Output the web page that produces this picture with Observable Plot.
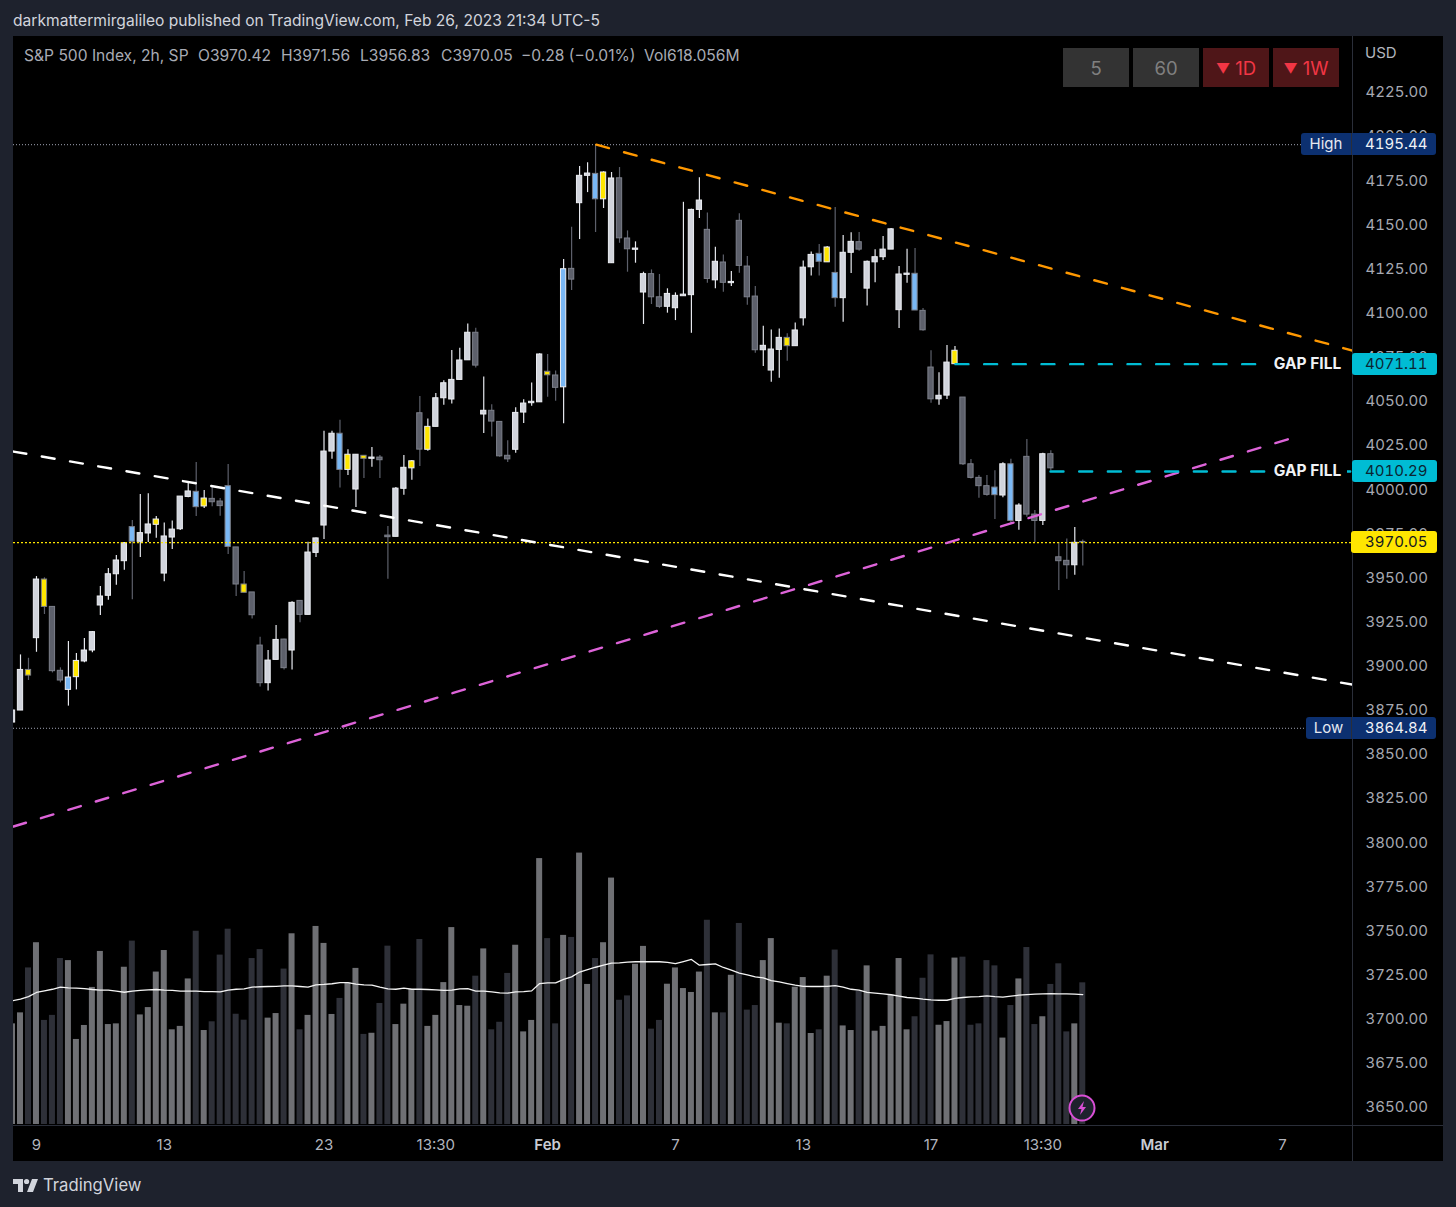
<!DOCTYPE html>
<html>
<head>
<meta charset="utf-8">
<script src="https://cdn.jsdelivr.net/npm/d3@7"></script>
<script src="https://cdn.jsdelivr.net/npm/@observablehq/plot@0.6"></script>
<style>
html,body{margin:0;padding:0;background:#1e222d;width:1456px;height:1207px;overflow:hidden;font-family:Inter,Roboto,sans-serif}
#stage{position:relative;width:1456px;height:1207px}
#stage svg.plot{position:absolute;left:0;top:0}
.abs{position:absolute;white-space:nowrap}
.btn{position:absolute;top:48px;width:66px;height:39px;line-height:41px;text-align:center;font-size:18.5px}
.btn span{font-size:14px;vertical-align:1px}
.tag{position:absolute;height:22px;line-height:22px;font-size:15px;border-radius:3px;box-sizing:border-box;font-variant-numeric:tabular-nums}
</style>
</head>
<body>
<div id="stage"></div>
<script>
// ---- values ----
const tones = ("UUyUyDDBYU"+"UUUUUbUUYU"+"UUUbYDDbDy"+"DDUUDUDUUU"+"UbYUyUDDUU"+"YDYUUUUUDU"+"DDDUUUUyDB"+"DUUbYUDDUU"+"DDUUUUUDUD"+"UDDDUUUyUU"+"UbYbUUDUUU"+"UUUbDDUUYD"+"DDDbUbUDDU"+"DDDUD").split("");

const highs = [3875.5,3906.4,3904.5,3950.8,3950.1,3933.6,3899.1,3914.0,3907.2,3915.7,
3919.7,3945.2,3955.4,3962.7,3970.1,3982.5,3997.3,3997.7,3984.8,3981.2,
3982.2,3996.1,4004.3,4015.4,3999.5,4002.0,3995.0,4014.3,3967.3,3953.7,
3941.8,3916.4,3908.9,3923.1,3915.3,3936.5,3937.0,3970.3,3972.7,4033.1,
4033.1,4039.3,4022.6,4019.8,4019.4,4023.9,4019.4,3979.1,4001.2,4019.4,
4016.5,4052.8,4040.1,4054.5,4061.7,4078.8,4080.1,4093.9,4091.5,4063.9,
4048.1,4038.4,4027.7,4046.4,4050.9,4060.5,4077.0,4076.6,4067.3,4130.4,
4148.7,4183.1,4185.2,4195.44,4180.1,4179.7,4182.5,4146.6,4140.4,4123.2,
4124.5,4121.9,4113.8,4111.5,4162.8,4158.9,4176.7,4156.8,4137.3,4133.0,
4123.6,4156.3,4132.1,4115.1,4092.6,4090.5,4091.1,4088.3,4094.5,4129.6,
4134.7,4138.9,4137.7,4159.8,4144.0,4145.5,4145.7,4129.6,4135.9,4143.4,
4147.9,4126.4,4136.2,4136.6,4102.6,4078.7,4066.2,4081.7,4081.1,4052.2,
4017.1,4008.0,4008.0,4010.7,4015.2,4017.2,3992.0,4028.4,3988.2,4020.6,
4022.0,3970.1,3972.1,3978.6,3971.56];

const bodyTops = [3874.9,3897.9,3897.9,3949.1,3949.1,3933.6,3897.4,3893.6,3903.0,3908.9,
3919.3,3939.5,3952.1,3959.9,3969.7,3978.8,3975.4,3980.3,3983.1,3973.5,
3977.4,3996.1,3999.0,3998.8,3995.0,3994.8,3993.3,4002.0,3967.3,3946.3,
3941.8,3911.7,3903.2,3914.9,3915.1,3935.9,3937.0,3964.4,3972.4,4021.6,
4031.7,4031.7,4019.8,4019.8,4019.2,4018.2,4018.2,3974.0,4000.6,4012.4,
4016.1,4043.3,4035.6,4051.8,4060.3,4062.2,4073.2,4088.9,4088.9,4044.7,
4044.7,4038.4,4019.2,4043.5,4048.8,4049.8,4076.6,4066.8,4064.7,4124.9,
4125.1,4177.8,4179.1,4178.9,4179.7,4176.3,4176.4,4142.3,4136.6,4122.1,
4122.1,4109.0,4110.9,4109.8,4110.5,4158.5,4163.8,4147.2,4129.1,4128.7,
4117.7,4152.3,4126.4,4109.4,4081.5,4079.4,4086.0,4086.0,4090.2,4125.8,
4133.0,4133.6,4137.2,4122.8,4134.2,4140.4,4140.2,4129.1,4131.7,4136.0,
4147.5,4121.9,4122.4,4122.3,4101.3,4069.2,4053.2,4072.0,4078.7,4052.2,
4014.4,4006.7,4002.0,4001.2,4014.4,4014.4,3991.0,4018.6,3985.9,4020.1,
4020.1,3961.7,3959.7,3969.9,3970.42];

const bodyBottoms = [3868.1,3874.9,3894.7,3915.9,3933.6,3897.2,3891.9,3886.6,3893.8,3902.7,
3908.9,3934.4,3939.9,3952.1,3959.5,3970.5,3970.5,3975.2,3980.1,3952.5,
3972.9,3977.6,3995.9,3990.1,3990.5,3992.9,3990.7,3967.6,3946.3,3941.6,
3928.9,3890.4,3890.4,3903.6,3898.9,3908.9,3929.1,3929.1,3964.2,3979.7,
4021.6,4011.2,4011.2,4000.1,4017.5,4017.5,4016.7,3973.1,3973.3,4000.5,
4012.1,4022.7,4022.6,4035.6,4051.8,4051.1,4062.2,4073.3,4070.3,4042.6,
4038.6,4018.9,4017.2,4022.6,4043.7,4049.0,4049.5,4064.8,4057.7,4058.0,
4119.0,4162.3,4177.8,4164.5,4164.5,4128.3,4142.4,4136.2,4135.9,4111.7,
4109.0,4103.6,4103.6,4102.8,4109.6,4110.2,4158.5,4119.4,4118.6,4117.2,
4117.0,4126.8,4109.0,4079.0,4079.0,4067.5,4079.2,4081.3,4081.3,4097.1,
4126.0,4129.1,4128.8,4108.5,4108.5,4134.2,4136.0,4113.9,4128.8,4131.7,
4136.0,4101.7,4121.7,4101.5,4090.3,4051.2,4051.2,4053.3,4071.1,4014.4,
4006.7,4002.0,3997.1,3996.9,3996.7,3982.3,3982.3,3985.9,3982.3,3982.3,
4012.1,3959.5,3957.2,3957.2,3970.05];

const lows = [3868.0,3874.9,3891.9,3907.9,3929.3,3896.2,3890.6,3877.4,3886.6,3901.9,
3907.6,3928.7,3937.4,3945.9,3954.4,3937.6,3961.6,3970.1,3972.5,3947.8,
3966.1,3976.9,3995.4,3984.8,3989.3,3990.3,3985.0,3963.3,3939.5,3941.6,
3926.7,3888.3,3885.9,3903.6,3897.8,3897.9,3924.6,3929.1,3961.6,3971.8,
4017.2,4001.0,4008.0,3989.9,4006.3,4012.7,4006.3,3949.3,3973.3,3996.9,
4005.3,4013.1,4021.8,4035.6,4047.8,4048.6,4062.2,4073.3,4069.0,4031.8,
4029.9,4018.4,4015.4,4020.6,4037.5,4047.3,4049.5,4052.4,4050.1,4037.3,
4112.8,4141.7,4168.3,4145.7,4159.3,4128.3,4139.6,4123.2,4128.3,4093.6,
4104.9,4102.6,4100.0,4095.8,4109.6,4088.6,4153.6,4117.0,4113.9,4111.9,
4115.1,4122.6,4104.5,4077.3,4069.8,4060.9,4063.1,4072.8,4081.3,4092.8,
4121.1,4121.1,4128.8,4103.4,4094.9,4122.4,4135.1,4104.1,4117.3,4129.8,
4136.0,4091.3,4117.0,4101.5,4089.8,4049.0,4047.8,4051.1,4071.1,4013.7,
4006.1,3995.1,3996.3,3983.1,3995.5,3980.3,3977.0,3984.4,3970.1,3979.7,
4010.8,3942.9,3949.3,3951.5,3956.83];

const volumes = [439,487,683,793,454,476,724,715,371,432,
598,755,436,439,686,800,478,510,665,759,
413,428,635,843,410,448,739,852,481,455,
724,763,464,484,678,832,413,476,864,790,
480,550,617,681,393,398,528,778,436,525,
589,807,428,476,619,859,519,516,647,766,
413,446,659,782,404,454,1160,811,439,825,
816,1184,611,724,793,1075,542,561,699,777,
416,454,612,683,593,576,665,891,487,487,
651,877,499,519,715,811,442,439,599,641,
397,413,647,761,430,410,582,692,407,428,
564,724,413,470,638,740,433,449,726,730,
433,439,715,692,377,519,635,772,436,470,
611,701,404,439,618.056];

const volumeAverage = [540,547,558,576,583,590,599,596,595,593,
589,586,586,582,577,582,585,587,589,586,
585,582,582,582,580,580,579,586,590,592,
599,601,602,603,605,605,602,599,609,611,
614,619,619,612,609,608,599,592,590,595,
590,590,589,587,585,586,592,593,582,582,
579,574,573,579,580,583,615,618,618,633,
644,665,676,686,695,704,705,708,710,710,
710,710,707,702,711,720,695,698,701,685,
673,660,653,644,640,628,622,615,608,603,
602,602,603,606,599,590,586,576,573,570,
566,560,554,551,547,544,542,542,550,554,
557,558,561,558,556,560,564,567,569,570,
571,570,570,569,567];

const priceTicks = [4225,4200,4175,4150,4125,4100,4075,4050,4025,4000,3975,3950,3925,3900,3875,3850,3825,3800,3775,3750,3725,3700,3675,3650];
const timeTickBars = [3,19,39,53,67,83,99,115,129,143,159];
const timeTickLabels = ["9","13","23","13:30","Feb","7","13","17","13:30","Mar","7"];
const boldTimeLabels = ["Feb","Mar"];

const whiteTrendBars = [0.124,167.77],  whiteTrendPrices = [4021.6,3889.6];
const orangeTrendBars = [73.1,167.77],  orangeTrendPrices = [4195.44,4078.8];
const magentaTrendBars = [0.124,160.0], magentaTrendPrices = [3809.2,4029.0];
const gapLevels = [4071.11,4010.29], gapStartBars = [118.06,129.96];
const highPrice = 4195.44, lowPrice = 3864.84, lastPrice = 3970.05;

// ---- derived tables ----
const upColor="#d1d4dc", downColor="#5d606b", blue="#7ab8f5", yellow="#ffe600";
const bars = tones.map((t,i)=>{
  const up = "UBY".includes(t);
  const k = t.toUpperCase();
  return {i, up, high:highs[i], low:lows[i], top:bodyTops[i], bottom:bodyBottoms[i], vol:volumes[i], ma:volumeAverage[i],
    fill: k==="B"?blue : k==="Y"?yellow : up?upColor:downColor,
    edge: up?"#eceef3":"#7d808b",
    wick: up?"#e6e8ee":"#5d606b",
    volFill: up?"#6f7074":"#2e3038"};
});
const toLine=(xs,ys)=>xs.map((x,k)=>({x,y:ys[k]}));
const timeTicks = timeTickBars.map((x,k)=>({x,label:timeTickLabels[k]}));
const xDomain=[0.124,167.77];
const font="Inter, Roboto, sans-serif";
const base={width:1456,height:1207,marginLeft:13,marginRight:104,marginTop:37,
  style:{background:"transparent",fontFamily:font,overflow:"visible"}};

// volume pane
const volumeChart = Plot.plot({...base, marginBottom:83,
  x:{domain:xDomain,axis:null},
  y:{domain:[0,4742],axis:null},
  color:{type:"identity"},
  marks:[
    Plot.rectY(bars,{x1:d=>d.i-0.375,x2:d=>d.i+0.375,y1:0,y2:"vol",fill:"volFill",clip:true}),
    Plot.line(bars,{x:"i",y:"ma",stroke:"#f4f4f4",strokeWidth:1.3,clip:true})
  ]});

// price pane
const dash="13,15.67";
const priceChart = Plot.plot({...base, marginBottom:82,
  x:{domain:xDomain,axis:null},
  y:{domain:[3639.83,4256.16],axis:null},
  color:{type:"identity"},
  marks:[
    Plot.axisY({anchor:"right",ticks:priceTicks,tickSize:0,tickPadding:13,fontSize:15,fill:"#a6a9b2",tickFormat:d=>d.toFixed(2),label:null,fontFamily:font}),
    Plot.text(timeTicks.filter(d=>!boldTimeLabels.includes(d.label)),{x:"x",text:"label",frameAnchor:"bottom",dy:20,fontSize:15,fill:"#b2b5be",lineAnchor:"middle"}),
    Plot.text(timeTicks.filter(d=>boldTimeLabels.includes(d.label)),{x:"x",text:"label",frameAnchor:"bottom",dy:20,fontSize:15,fontWeight:600,fill:"#c9ccd4",lineAnchor:"middle"}),
    Plot.ruleX(bars,{x:"i",y1:"low",y2:"high",stroke:"wick",strokeWidth:1.2,clip:true}),
    Plot.rect(bars,{x1:d=>d.i-0.33,x2:d=>d.i+0.33,y1:"bottom",y2:"top",fill:"fill",stroke:"edge",strokeWidth:1,clip:true}),
    Plot.ruleY([highPrice,lowPrice],{stroke:"#a0a4b4",strokeDasharray:"1,2",strokeWidth:1}),
    Plot.ruleY([lastPrice],{stroke:yellow,strokeDasharray:"2,2",strokeWidth:1.2}),
    Plot.line(toLine(whiteTrendBars,whiteTrendPrices),{x:"x",y:"y",stroke:"#ffffff",strokeWidth:2.4,strokeDasharray:dash,clip:true}),
    Plot.line(toLine(orangeTrendBars,orangeTrendPrices),{x:"x",y:"y",stroke:"#ff9800",strokeWidth:2.4,strokeDasharray:dash,clip:true}),
    Plot.line(toLine(magentaTrendBars,magentaTrendPrices),{x:"x",y:"y",stroke:"#dd63d8",strokeWidth:2.4,strokeDasharray:dash,clip:true}),
    ...gapLevels.map((g,k)=>Plot.line(toLine([gapStartBars[k],167.77],[g,g]),{x:"x",y:"y",stroke:"#00bcd4",strokeWidth:2.4,strokeDasharray:dash,clip:true}))
  ]});
volumeChart.classList.add("plot");priceChart.classList.add("plot");

// ---- page furniture ----
const stage=document.getElementById("stage");
function box(css,html,cls){const d=document.createElement("div");d.className=cls||"abs";d.style.cssText=css;if(html!=null)d.innerHTML=html;stage.appendChild(d);return d;}
box("left:13px;top:36px;width:1430px;height:1125px;background:#000");
stage.appendChild(volumeChart);
box("left:13px;top:1125px;width:1430px;height:1px;background:#2a2e39");
box("left:1352px;top:36px;width:1px;height:1125px;background:#2a2e39");
stage.appendChild(priceChart);

box("left:13px;top:11px;font-size:15.6px;line-height:20px;color:#d1d4dc","darkmattermirgalileo published on TradingView.com, Feb 26, 2023 21:34 UTC-5");
[["S&amp;P 500 Index, 2h, SP",24],["O3970.42",198],["H3971.56",281],["L3956.83",360],["C3970.05",441],["−0.28 (−0.01%)",521],["Vol618.056M",644]]
  .forEach(([t,x])=>box(`left:${x}px;top:46px;font-size:15.6px;line-height:20px;color:#a8abb4`,t));
box("left:1365px;top:43px;font-size:15px;line-height:20px;color:#b2b5be","USD");

[["5",1063],["60",1133]].forEach(([t,x])=>box(`left:${x}px;background:#333333;color:#808080`,t,"btn"));
[["<span>▼</span> 1D",1203],["<span>▼</span> 1W",1273]].forEach(([t,x])=>box(`left:${x}px;background:#4f1618;color:#f23645`,t,"btn"));

const yOf=p=>priceChart.scale("y").apply(p);
function hiLo(text,price,left){
  const t=yOf(price)-11;
  box(`left:${left}px;top:${t}px;width:${1436-left}px;background:#0c3070;color:#e6e9f0`,"","tag");
  box(`left:${left}px;top:${t}px;width:${1351-left}px;text-align:center;color:#e6e9f0;background:none`,text,"tag");
  box(`left:1351px;top:${t}px;width:1px;height:22px;background:#2a2e39`);
  box(`left:1365px;top:${t}px;color:#f0f2f6;padding:0;background:none`,price.toFixed(2),"tag");
}
hiLo("High",highPrice,1301);
hiLo("Low",lowPrice,1306);
gapLevels.forEach(g=>{
  const t=yOf(g)-11;
  box(`left:1268px;top:${t+1}px;width:79px;height:20px;line-height:20px;background:#000;color:#f0f2f6;font-size:15.5px;font-weight:700;text-align:center`,"GAP FILL");
  box(`left:1352px;top:${t}px;width:85px;background:#00bcd4;color:#0b2533;padding-left:13px`,g.toFixed(2),"tag");
});
box(`left:1351px;top:${yOf(lastPrice)-11}px;width:86px;background:#ffe600;color:#131722;padding-left:14px`,lastPrice.toFixed(2),"tag");

box("left:1068px;top:1094px;width:28px;height:28px",`<svg class="icon" width="28" height="28" viewBox="0 0 28 28"><circle cx="14" cy="14" r="12.5" fill="#1e222d" stroke="#d94fd6" stroke-width="2"/><path d="M16 7 L10 15 L13.5 15 L12 21 L18 13 L14.5 13 Z" fill="#d94fd6"/></svg>`);
box("left:13px;top:1177px;width:26px;height:15px",`<svg class="icon" width="26" height="15" viewBox="0 0 26 15"><path d="M0 1H10V14H5V6H0Z M11 3.5a2.6 2.6 0 1 0 5.2 0a2.6 2.6 0 1 0 -5.2 0Z M14 14L19 1H25L20 14Z" fill="#d1d4dc"/></svg>`);
box("left:43px;top:1174px;font-size:16.7px;line-height:22px;color:#d1d4dc","TradingView");
</script>
</body>
</html>
